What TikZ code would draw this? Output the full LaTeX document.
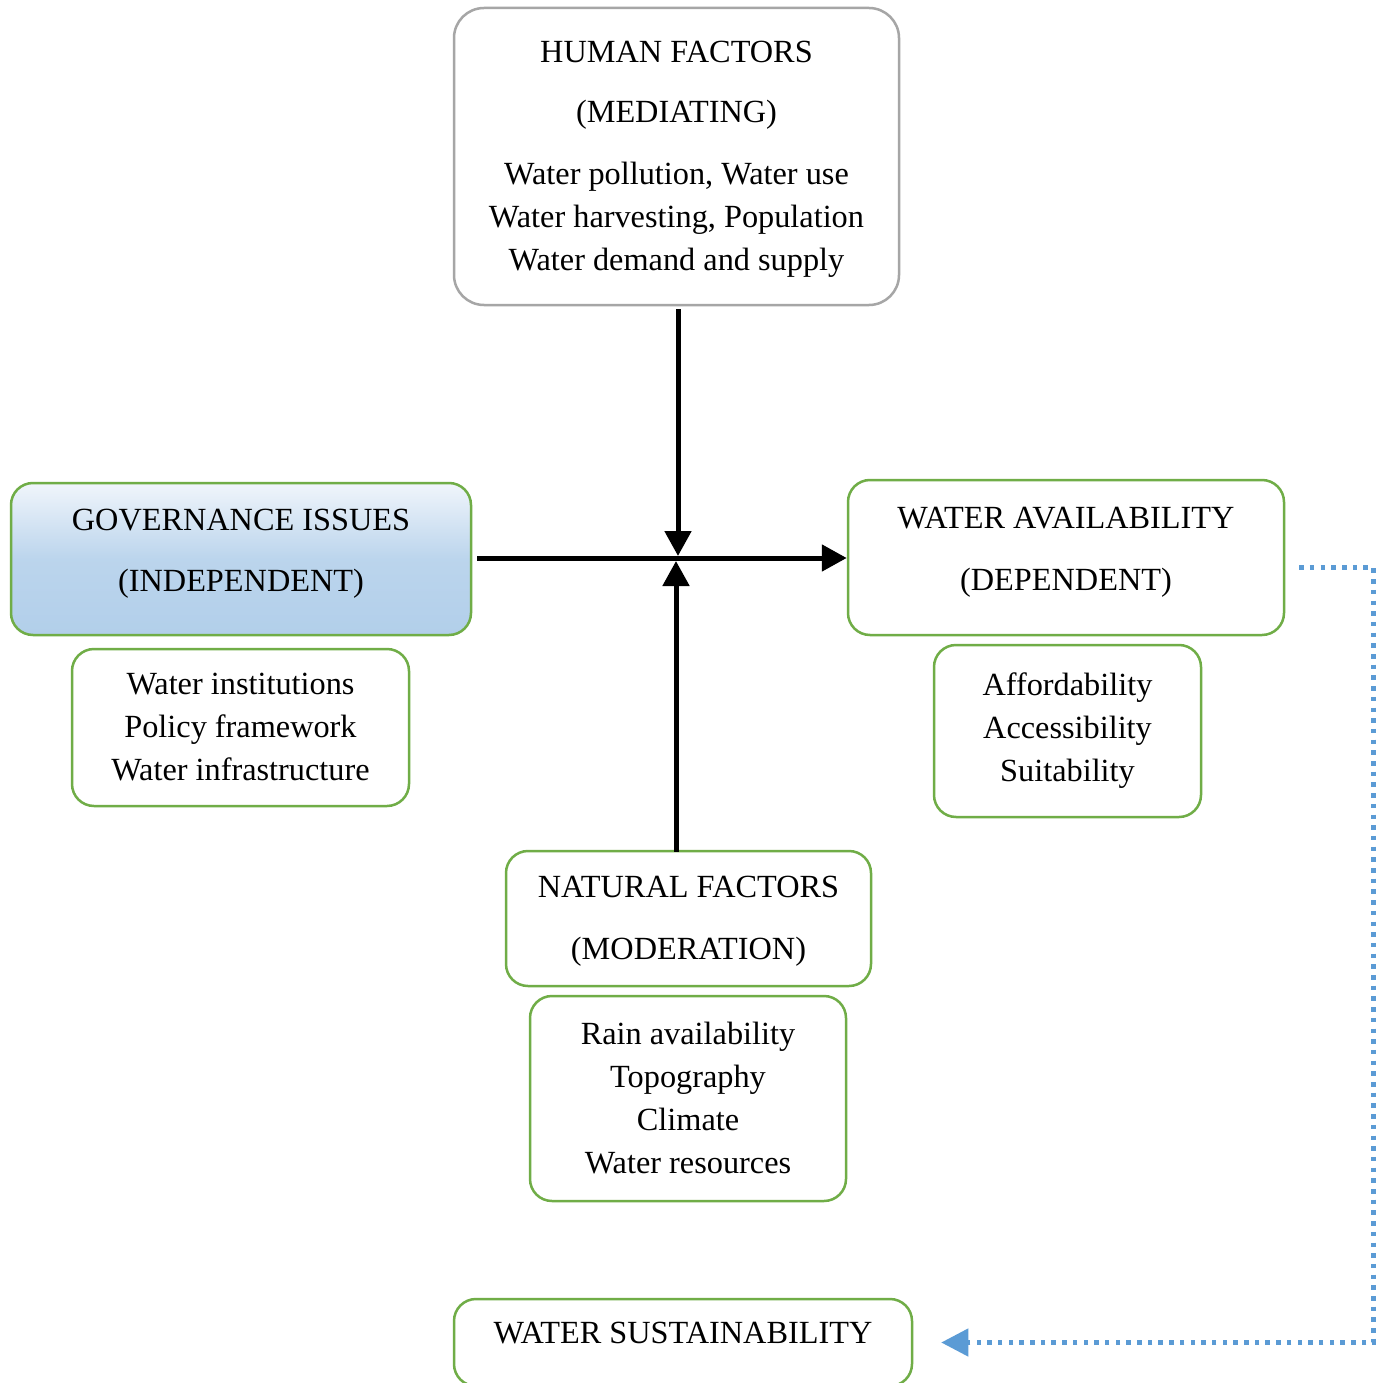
\documentclass[tikz,border=0pt]{standalone}
\usepackage{fontspec}
\setmainfont{Liberation Serif}
\definecolor{boxgreen}{RGB}{112, 173, 71}
\definecolor{boxgray}{RGB}{166, 166, 166}
\definecolor{govtop}{RGB}{240, 245, 251}
\definecolor{govblue}{RGB}{178, 207, 234}
\definecolor{linkblue}{RGB}{91, 155, 213}
\usetikzlibrary{arrows.meta, positioning, calc}

\begin{document}
\begin{tikzpicture}[x=1pt, y=-1pt,
  every node/.style={font=\fontsize{32.3}{43}\selectfont, align=center, inner sep=0pt},
  greenbox/.style={draw=boxgreen, line width=2.5pt, rounded corners=22pt},
  graybox/.style={draw=boxgray, line width=2.5pt, rounded corners=30pt},
  govshade/.style={top color=govtop, bottom color=govblue, middle color=govblue!85!govtop},
  raised/.style={text depth=#1},
  mainarrow/.style={line width=5pt, -{Triangle[length=25pt, width=26pt]}},
  backlink/.style={draw=linkblue, line width=4.5pt, dash pattern=on 4.5pt off 6.2pt, -{Triangle[length=27pt, width=27pt]}}]

  \useasboundingbox[fill=white] (0,0) rectangle (1384,1383);

  % Mediating factors
  \node[graybox, raised=1pt, minimum width=445pt, minimum height=297pt] (human) at (676.5, 156.5) {
    HUMAN FACTORS\\[17pt]
    (MEDIATING)\\[19pt]
    Water pollution, Water use\\
    Water harvesting, Population\\
    Water demand and supply};

  % Independent and dependent variables
  \node[greenbox, govshade, raised=18pt, minimum width=460pt, minimum height=152pt] (gov) at (241, 559) {
    GOVERNANCE ISSUES\\[18pt]
    (INDEPENDENT)};
  \node[greenbox, minimum width=337pt, minimum height=157pt] (govlist) at (240.5, 727.5) {
    Water institutions\\
    Policy framework\\
    Water infrastructure};

  \node[greenbox, raised=18pt, minimum width=436pt, minimum height=155pt] (avail) at (1066, 557.5) {
    WATER AVAILABILITY\\[19pt]
    (DEPENDENT)};
  \node[greenbox, minimum width=267pt, minimum height=172pt] (availlist) at (1067.5, 731) {
    Affordability\\
    Accessibility\\
    Suitability};

  % Moderating factors
  \node[greenbox, raised=0.5pt, minimum width=365pt, minimum height=135pt] (natural) at (688.5, 918.5) {
    NATURAL FACTORS\\[19pt]
    (MODERATION)};
  \node[greenbox, minimum width=316pt, minimum height=205pt] (natlist) at (688, 1098.5) {
    Rain availability\\
    Topography\\
    Climate\\
    Water resources};

  % Outcome
  \node[greenbox, raised=19pt, minimum width=458pt, minimum height=87pt] (sustain) at (683, 1342.5) {
    WATER SUSTAINABILITY};

  % Arrows
  \coordinate (hub) at (677, 558);
  \draw[mainarrow] ([xshift=5pt]gov.east |- hub) -- (avail.west |- hub);
  \draw[mainarrow] ([shift={(1,3)}]human.south -| hub) -- ([shift={(1,-2)}]hub);
  \draw[mainarrow] ([shift={(-1,2)}]natural.north -| hub) -- ([shift={(-1,3)}]hub);
  \draw[backlink] ([shift={(14,10)}]avail.east) -- ++(74,0) |- ([xshift=28pt]sustain.east);
\end{tikzpicture}
\end{document}
